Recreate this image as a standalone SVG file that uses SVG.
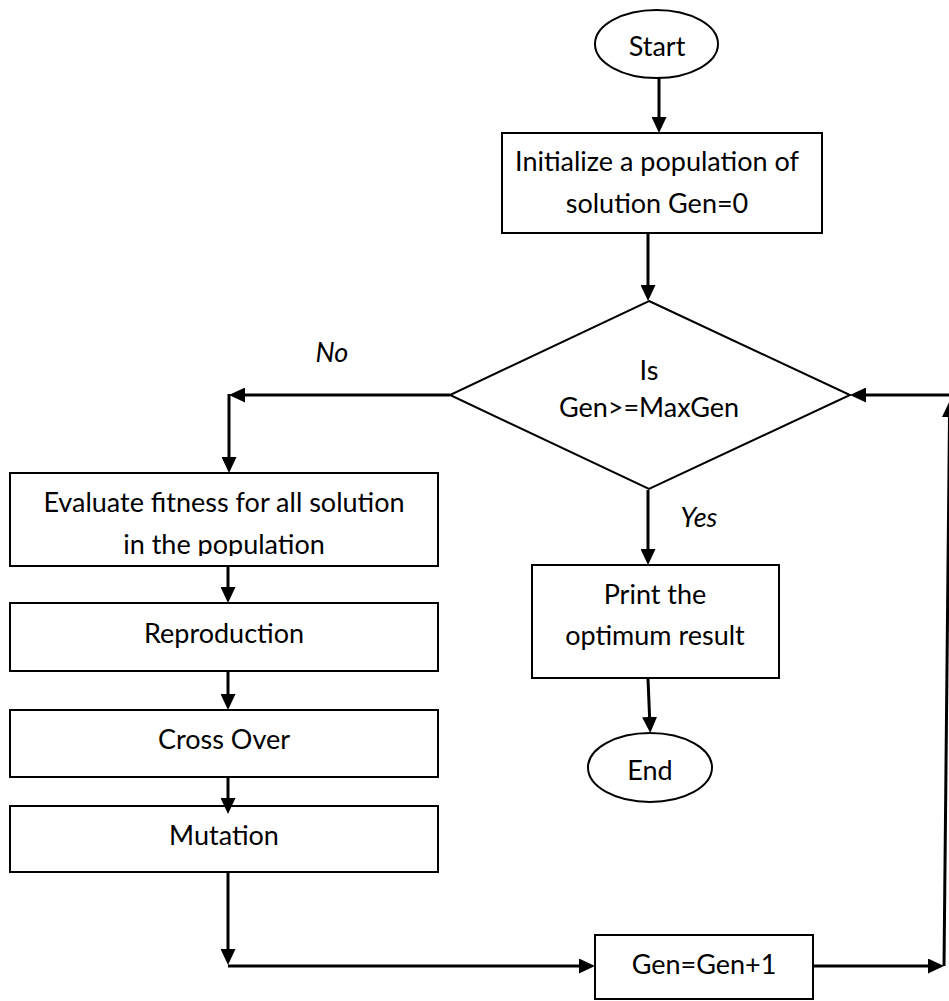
<svg xmlns="http://www.w3.org/2000/svg" width="949" height="1001" viewBox="0 0 949 1001">
<style>
.box{fill:#fff;stroke:#000;stroke-width:2}
.t{font-family:Lato,"Liberation Sans",sans-serif;font-size:27px;fill:#000;text-anchor:middle}
.i{font-style:italic}
.c{fill:none;stroke:#000;stroke-width:3}
</style>
<defs>
<marker id="ah" viewBox="0 0 16 15" refX="10" refY="7.5" markerWidth="16" markerHeight="15" markerUnits="userSpaceOnUse" orient="auto">
<path d="M0,0 L16,7.5 L0,15 Z" fill="#000"/>
</marker>
<clipPath id="clipEval"><rect x="10" y="473" width="428" height="83"/></clipPath>
</defs>
<rect width="949" height="1001" fill="#fff"/>
<g id="start">
<ellipse cx="656.5" cy="44" rx="61.5" ry="34" class="box"/>
<text class="t" x="657" y="56">Start</text>
</g>
<g id="init">
<rect class="box" x="502" y="133" width="320" height="100"/>
<text class="t" x="657" y="171">Initialize a population of</text>
<text class="t" x="657" y="213">solution Gen=0</text>
</g>
<g id="decision">
<polygon class="box" points="649,301 850,395 649,489 450,395"/>
<text class="t" x="649" y="380">Is</text>
<text class="t" x="649" y="417">Gen&gt;=MaxGen</text>
</g>
<g id="label-no"><text class="t i" x="332" y="362">No</text></g>
<g id="label-yes"><text class="t i" x="699" y="527">Yes</text></g>
<g id="evaluate">
<rect class="box" x="10" y="473" width="428" height="93"/>
<text class="t" x="224" y="512">Evaluate fitness for all solution</text>
<text class="t" x="224" y="554" clip-path="url(#clipEval)">in the population</text>
</g>
<g id="reproduction">
<rect class="box" x="10" y="603" width="428" height="68"/>
<text class="t" x="224" y="643">Reproduction</text>
</g>
<g id="crossover">
<rect class="box" x="10" y="710" width="428" height="67"/>
<text class="t" x="224" y="749">Cross Over</text>
</g>
<g id="mutation">
<rect class="box" x="10" y="806" width="428" height="66"/>
<text class="t" x="224" y="845">Mutation</text>
</g>
<g id="print">
<rect class="box" x="532" y="565" width="247" height="113"/>
<text class="t" x="655" y="604">Print the</text>
<text class="t" x="655" y="645">optimum result</text>
</g>
<g id="end">
<ellipse cx="650" cy="767.5" rx="62" ry="34.5" class="box"/>
<text class="t" x="650" y="780">End</text>
</g>
<g id="increment">
<rect class="box" x="595" y="935" width="218" height="64"/>
<text class="t" x="704" y="974">Gen=Gen+1</text>
</g>
<g id="connectors">
<path class="c" d="M659,78 L659,127" marker-end="url(#ah)"/>
<path class="c" d="M648,234 L648,295" marker-end="url(#ah)"/>
<path class="c" d="M450,395 L235,395" marker-end="url(#ah)"/>
<path class="c" d="M229,394 L229,467" marker-end="url(#ah)"/>
<path class="c" d="M648,490 L648,559" marker-end="url(#ah)"/>
<path class="c" d="M648,679 L650,727" marker-end="url(#ah)"/>
<path class="c" d="M228,567 L228,597" marker-end="url(#ah)"/>
<path class="c" d="M228,672 L228,704" marker-end="url(#ah)"/>
<path class="c" d="M228,778 L228,808" marker-end="url(#ah)"/>
<path class="c" d="M228,873 L228,959" marker-end="url(#ah)"/>
<path class="c" d="M228,966 L589,966" marker-end="url(#ah)"/>
<path class="c" d="M814,966 L938,966" marker-end="url(#ah)"/>
<path class="c" d="M944,966 L949.6,407" marker-end="url(#ah)"/>
<path class="c" d="M949,395 L856,395" marker-end="url(#ah)"/>
</g>
</svg>
